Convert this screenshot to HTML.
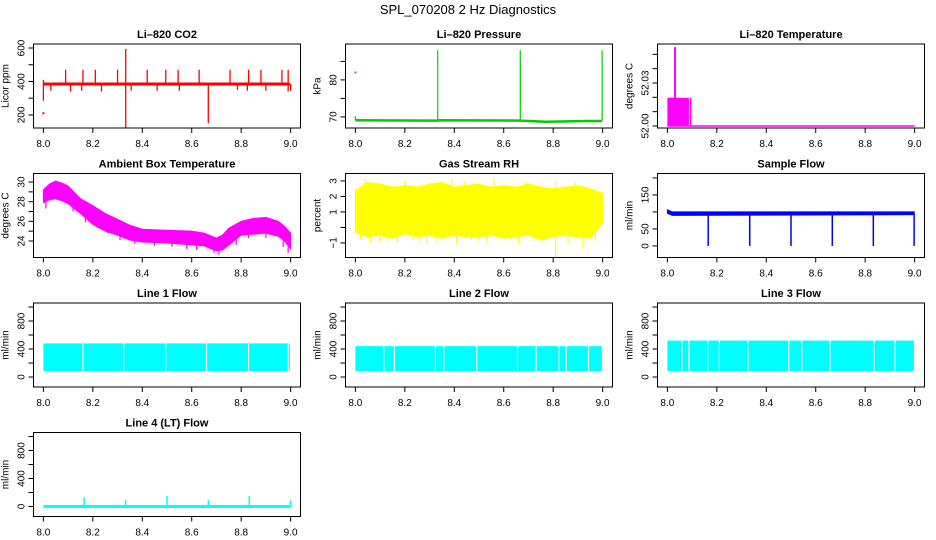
<!DOCTYPE html>
<html><head><meta charset="utf-8">
<style>
html,body{margin:0;padding:0;background:#fff;}
svg{display:block;font-family:"Liberation Sans",sans-serif;}
</style></head>
<body>
<svg id="chart" width="936" height="540" viewBox="0 0 936 540" xmlns="http://www.w3.org/2000/svg">
<rect x="0" y="0" width="936" height="540" fill="#fff"/>
<text x="468" y="14" text-anchor="middle" font-size="13">SPL_070208  2 Hz Diagnostics</text>
</svg>
<script>
// ---- data ----
const xTicks = [8.0, 8.2, 8.4, 8.6, 8.8, 9.0];
const xTickLabels = ["8.0", "8.2", "8.4", "8.6", "8.8", "9.0"];

const co2SpikeX  = [8.0, 8.09, 8.16, 8.21, 8.30, 8.333, 8.42, 8.495, 8.545, 8.63, 8.667, 8.755, 8.83, 8.88, 8.965, 8.99, 8.03, 8.11, 8.155, 8.235, 8.355, 8.46, 8.55, 8.785, 8.825, 8.9, 9.0];
const co2SpikeHi = [410, 470, 470, 470, 470, 595, 470, 470, 470, 470, 390, 470, 470, 470, 470, 470, 385, 385, 385, 385, 385, 385, 385, 385, 385, 385, 385];
const co2SpikeLo = [285, 385, 385, 385, 385, 125, 385, 385, 385, 385, 150, 385, 385, 385, 385, 340, 345, 340, 345, 340, 345, 345, 345, 350, 345, 345, 345];
const co2BaseX = [8.0, 8.997];
const co2BaseV = [385, 385];
const co2PointX = [8.0];
const co2PointV = [210];

const presBaseX = [8.0, 8.33, 8.34, 8.667, 8.77, 8.94, 8.998];
const presBaseV = [69.1, 69.0, 69.1, 69.0, 68.7, 68.9, 68.9];
const presSpikeX = [8.333, 8.667, 8.998, 8.0];
const presSpikeV = [88, 88, 88, 70.2];
const presPointX = [8.0];
const presPointV = [82];

const ltBaseX = [8.0, 9.0];
const ltBaseV = [52.0, 52.0];
const ltBlockX0 = [8.0, 8.091];
const ltBlockX1 = [8.087, 8.097];
const ltBlockV = [52.0197, 52.0197];
const ltSpikeX = [8.031];
const ltSpikeV = [52.055];

const ambX  = [8.0, 8.025, 8.05, 8.075, 8.1, 8.15, 8.2, 8.25, 8.3, 8.35, 8.4, 8.5, 8.6, 8.65, 8.7, 8.725, 8.75, 8.8, 8.85, 8.9, 8.95, 8.975, 9.0];
const ambHi = [29.2, 29.8, 30.1, 29.9, 29.6, 28.3, 27.6, 26.8, 26.2, 25.6, 25.2, 25.1, 25.0, 24.8, 24.3, 24.6, 25.3, 26.0, 26.3, 26.4, 26.0, 25.5, 24.8];
const ambLo = [27.9, 28.2, 28.3, 28.1, 27.8, 26.8, 25.7, 25.0, 24.6, 24.1, 23.9, 23.8, 23.6, 23.5, 23.0, 23.1, 23.6, 24.6, 24.7, 24.8, 24.5, 24.0, 23.2];
const ambSpikeX = [8.01, 8.12, 8.17, 8.22, 8.26, 8.31, 8.37, 8.45, 8.52, 8.58, 8.62, 8.69, 8.71, 8.78, 8.83, 8.9, 8.97, 8.99];
const ambSpikeV = [27.3, 27.0, 25.9, 25.3, 24.8, 24.1, 23.7, 23.5, 23.4, 23.2, 23.1, 22.8, 22.6, 23.6, 24.3, 24.3, 23.4, 22.8];

const rhX  = [8.0, 8.05, 8.1, 8.15, 8.2, 8.25, 8.3, 8.35, 8.4, 8.45, 8.5, 8.55, 8.6, 8.65, 8.7, 8.75, 8.8, 8.85, 8.9, 8.95, 9.0];
const rhHi = [2.4, 2.9, 2.8, 2.6, 2.7, 2.6, 2.8, 2.9, 2.6, 2.7, 2.8, 2.6, 2.7, 2.6, 2.8, 2.6, 2.5, 2.6, 2.7, 2.5, 2.2];
const rhLo = [-0.3, -0.6, -0.5, -0.7, -0.4, -0.6, -0.5, -0.7, -0.5, -0.6, -0.6, -0.5, -0.7, -0.6, -0.5, -0.8, -0.6, -0.5, -0.6, -0.7, 0.3];
const rhSpikeX = [8.02, 8.06, 8.13, 8.17, 8.26, 8.33, 8.41, 8.47, 8.53, 8.6, 8.66, 8.72, 8.81, 8.86, 8.92, 8.97, 8.04, 8.2, 8.39, 8.44, 8.56, 8.81, 8.1, 8.23, 8.29, 8.36, 8.5, 8.63, 8.69, 8.76, 8.89];
const rhSpikeV = [-0.8, -1.0, -0.9, -1.0, -0.9, -0.9, -1.0, -0.8, -0.9, -0.7, -1.0, -0.9, -1.9, -1.0, -1.3, -0.9, 3.1, 3.0, 3.1, 3.0, 3.2, 3.0, -0.9, -0.8, -1.0, 2.9, -0.9, -0.8, 3.0, -0.9, 2.9];

const sfBandX = [8.0, 8.02, 8.998];
const sfBandHi = [106, 100, 100];
const sfBandLo = [96, 90, 92];
const sfDropX = [8.165, 8.333, 8.5, 8.667, 8.833, 8.998];
const sfDropV = [0, 0, 0, 0, 0, 0];

const l1Lo = 85, l1Hi = 480;
const l1GapX = [8.16, 8.325, 8.495, 8.66, 8.83, 8.99];
const l2Lo = 85, l2Hi = 440;
const l2GapX = [8.115, 8.158, 8.324, 8.358, 8.491, 8.656, 8.731, 8.824, 8.853, 8.943];
const l3Lo = 85, l3Hi = 520;
const l3GapX = [8.059, 8.087, 8.163, 8.21, 8.326, 8.491, 8.544, 8.658, 8.836, 8.921];

const l4SpikeX = [8.165, 8.333, 8.5, 8.667, 8.833, 9.0];
const l4SpikeV = [130, 90, 150, 90, 150, 90];

// ---- layout ----
const colLeft = [33.5, 345.5, 657.5];
const rowTop = [44, 173.5, 303, 432.5];
const BW = 267, BH = 84;

const panels = [
 {id:"co2", title:"Li\u2013820 CO2", c:0, r:0, y0:122, y1:624, ticks:[200,300,400,500,600], labels:{200:"200",400:"400",600:"600"}, ylab:"Licor ppm"},
 {id:"pres", title:"Li\u2013820 Pressure", c:1, r:0, y0:67.0, y1:89.7, ticks:[70,75,80,85], labels:{70:"70",80:"80"}, ylab:"kPa"},
 {id:"ltemp", title:"Li\u2013820 Temperature", c:2, r:0, y0:51.9986, y1:52.0572, ticks:[52.0,52.01,52.02,52.03,52.04,52.05], labels:{52.0:"52.00",52.03:"52.03"}, ylab:"degrees C"},
 {id:"amb", title:"Ambient Box Temperature", c:0, r:1, y0:22.32, y1:30.87, ticks:[24,25,26,27,28,29,30], labels:{24:"24",26:"26",28:"28",30:"30"}, ylab:"degrees C"},
 {id:"rh", title:"Gas Stream RH", c:1, r:1, y0:-1.94, y1:3.48, ticks:[-1,0,1,2,3], labels:{"-1":"\u22121",1:"1",2:"2",3:"3"}, ylab:"percent"},
 {id:"sf", title:"Sample Flow", c:2, r:1, y0:-34, y1:213, ticks:[0,50,100,150,200], labels:{0:"0",50:"50",150:"150"}, ylab:"ml/min"},
 {id:"l1", title:"Line 1 Flow", c:0, r:2, y0:-143, y1:1057, ticks:[0,200,400,600,800,1000], labels:{0:"0",400:"400",800:"800"}, ylab:"ml/min"},
 {id:"l2", title:"Line 2 Flow", c:1, r:2, y0:-143, y1:1057, ticks:[0,200,400,600,800,1000], labels:{0:"0",400:"400",800:"800"}, ylab:"ml/min"},
 {id:"l3", title:"Line 3 Flow", c:2, r:2, y0:-143, y1:1057, ticks:[0,200,400,600,800,1000], labels:{0:"0",400:"400",800:"800"}, ylab:"ml/min"},
 {id:"l4", title:"Line 4 (LT) Flow", c:0, r:3, y0:-143, y1:1057, ticks:[0,200,400,600,800,1000], labels:{0:"0",400:"400",800:"800"}, ylab:"ml/min"}
];

const svg = document.getElementById("chart");
const NS = "http://www.w3.org/2000/svg";
function mk(tag, attrs, parent){
  const e = document.createElementNS(NS, tag);
  for (const k in attrs) e.setAttribute(k, attrs[k]);
  (parent||svg).appendChild(e);
  return e;
}
function sxF(p){ const L = colLeft[p.c]; return v => L + BW*(0.04 + (v-8.0))/1.08; }
function syF(p){ const T = rowTop[p.r]; return v => T + BH - (v - p.y0)/(p.y1 - p.y0)*BH; }

const P = {};
panels.forEach(p => {
  const L = colLeft[p.c], T = rowTop[p.r];
  const sx = sxF(p), sy = syF(p);
  P[p.id] = {sx, sy, p};
  const g = mk("g", {});
  
  
  const t = mk("text", {x: L + BW/2, y: T - 6, "text-anchor":"middle", "font-size":"11", "font-weight":"bold"}, g);
  t.textContent = p.title;
  
  
  const yl = mk("text", {x: 0, y: 0, "text-anchor":"middle", "font-size":"10", transform:`translate(${L-25},${T+BH/2}) rotate(-90)`}, g);
  yl.textContent = p.ylab;
  
  
  const xa = mk("line", {x1: sx(8.0), x2: sx(9.0), y1: T+BH, y2: T+BH, stroke:"#000"}, g);
  
  
  xTicks.forEach((v, i) => {
    const tk = mk("line", {x1: sx(v), x2: sx(v), y1: T+BH, y2: T+BH+5, stroke:"#000"}, g);
    
    
    const tl = mk("text", {x: sx(v), y: T+BH+19, "text-anchor":"middle", "font-size":"10"}, g);
    tl.textContent = xTickLabels[i];
    
    
  });
  p.ticks.forEach(v => {
    const tk = mk("line", {x1: L-5, x2: L, y1: sy(v), y2: sy(v), stroke:"#000"}, g);
    
    
    if (p.labels[v] !== undefined) {
      const tl = mk("text", {x: 0, y: 0, "text-anchor":"middle", "font-size":"10", transform:`translate(${L-9},${sy(v)}) rotate(-90)`}, g);
      tl.textContent = p.labels[v];
      
      
    }
  });
  P[p.id].g = g;
  P[p.id].L = L; P[p.id].T = T;
});

function vline(id, x, a, b, col, w, name){
  const q = P[id];
  const e = mk("line", {x1:q.sx(x), x2:q.sx(x), y1:q.sy(a), y2:q.sy(b), stroke:col, "stroke-width":w}, q.g);
  
  
  return e;
}
function polyline(id, xs, vs, col, w, name){
  const q = P[id];
  const e = mk("polyline", {points: xs.map((x,i)=>q.sx(x)+","+q.sy(vs[i])).join(" "), fill:"none", stroke:col, "stroke-width":w}, q.g);
  
  
}
function band(id, xs, hi, lo, col, name){
  const q = P[id];
  const pts = xs.map((x,i)=>q.sx(x)+","+q.sy(hi[i])).concat(xs.slice().reverse().map((x,i)=>q.sx(x)+","+q.sy(lo[xs.length-1-i])));
  const e = mk("polygon", {points: pts.join(" "), fill:col, stroke:col, "stroke-width":1}, q.g);
  
  
}
function dot(id, x, v, col, name){
  const q = P[id];
  const e = mk("rect", {x:q.sx(x)-1, y:q.sy(v)-1, width:2, height:2, fill:col}, q.g);
  
  
}

// CO2
polyline("co2", co2BaseX, co2BaseV, "#ff0000", 3, "co2-series");
co2SpikeX.forEach((x,i)=>vline("co2", x, co2SpikeLo[i], co2SpikeHi[i], "#ff0000", 1.3, "co2-spike"));
co2PointX.forEach((x,i)=>dot("co2", x, co2PointV[i], "#ff0000", "co2-point"));

// Pressure
polyline("pres", presBaseX, presBaseV, "#00cd00", 2.5, "pressure-series");
presSpikeX.forEach((x,i)=>vline("pres", x, presBaseV[0], presSpikeV[i], "#00cd00", 1.2, "pressure-spike"));
presPointX.forEach((x,i)=>dot("pres", x, presPointV[i], "#00cd00", "pressure-point"));

// Li temp
polyline("ltemp", ltBaseX, ltBaseV, "#ff00ff", 1.5, "li-temp-series");
ltBlockX0.forEach((x,i)=>{
  const q = P.ltemp;
  const e = mk("rect", {x:q.sx(x), y:q.sy(ltBlockV[i]), width:q.sx(ltBlockX1[i])-q.sx(x), height:q.sy(52.0)-q.sy(ltBlockV[i]), fill:"#ff00ff"}, q.g);
  
  
});
ltSpikeX.forEach((x,i)=>vline("ltemp", x, 52.0, ltSpikeV[i], "#ff00ff", 2, "li-temp-spike"));

// Ambient
band("amb", ambX, ambHi, ambLo, "#ff00ff", "ambient-temp-band");
ambSpikeX.forEach((x,i)=>vline("amb", x, ambSpikeV[i] + 1.2, ambSpikeV[i], "#ff00ff", 1.2, "ambient-temp-spike"));

// RH
band("rh", rhX, rhHi, rhLo, "#ffff00", "rh-band");
rhSpikeX.forEach((x,i)=>vline("rh", x, 1.0, rhSpikeV[i], "#ffff00", 1.2, "rh-spike"));

// Sample flow
band("sf", sfBandX, sfBandHi, sfBandLo, "#0000ff", "sample-flow-band");
sfDropX.forEach((x,i)=>vline("sf", x, 95, sfDropV[i], "#0000ff", 1.5, "sample-flow-drop"));

// Line flows
function flowBand(id, lo, hi, gaps, name){
  const q = P[id];
  const e = mk("rect", {x:q.sx(8.0), y:q.sy(hi), width:q.sx(8.997)-q.sx(8.0), height:q.sy(lo)-q.sy(hi), fill:"#00ffff"}, q.g);
  
  
  gaps.forEach(x=>vline(id, x, lo, hi, "#ffffff", 1.2, name + "-gap"));
}
flowBand("l1", l1Lo, l1Hi, l1GapX, "line1-flow-band");
flowBand("l2", l2Lo, l2Hi, l2GapX, "line2-flow-band");
flowBand("l3", l3Lo, l3Hi, l3GapX, "line3-flow-band");
polyline("l4", [8.0, 9.0], [0, 0], "#00ffff", 3, "line4-flow-series");
l4SpikeX.forEach((x,i)=>vline("l4", x, 0, l4SpikeV[i], "#00ffff", 1.5, "line4-spike"));

// boxes on top
panels.forEach(p=>{
  const q = P[p.id];
  const b = mk("rect", {x:q.L, y:q.T, width:BW, height:BH, fill:"none", stroke:"#000", "stroke-width":1}, q.g);
  
  
});
</script>
</body></html>
